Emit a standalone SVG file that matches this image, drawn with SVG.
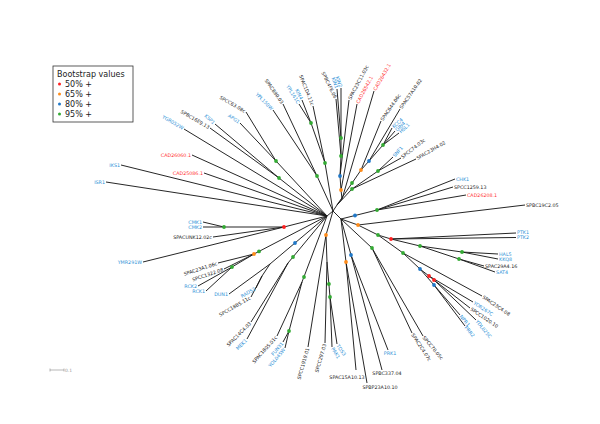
<svg xmlns="http://www.w3.org/2000/svg" width="600" height="424" viewBox="0 0 600 424">
<style>
.e{fill:none;stroke:#1a1a1a;stroke-width:0.95}
text{font-family:"DejaVu Sans","Liberation Sans",sans-serif}
.l{font-size:4.8px;fill:#222}
.b{fill:#2b8fd6}
.r{fill:#ff3030}
.k{fill:#222}
.st{text-anchor:start}
.en{text-anchor:end}
.mi{text-anchor:middle}
.lg{font-size:8px;fill:#222}
.d5{fill:#ff2020}.d6{fill:#ff8c1a}.d8{fill:#1f78c8}.d9{fill:#33aa33}
#bootstrap circle{r:1.9px}
</style>
<rect width="600" height="424" fill="#fff"/>
<g id="connectors" class="e">
<path d="M333 211L327 216M333 211L337 205M333 211L341 219
M327 216L184 129M327 216L279 178M279 178L210 128M279 178L215 124
M327 216L276 161M276 161L246 112M276 161L240 123
M327 216L192 155M327 216L121 165M327 216L204 173M327 216L106 182
M327 216L284 227M284 227L224 227M224 227L203 222M224 227L203 227M284 227L213 237M284 227L143 262
M327 216L254 254M254 254L218 263M254 254L224 269M254 254L232 267M232 267L198 286M232 267L206 291
M327 216L270 264M270 264L229 294M270 264L262 276M262 276L256 288M262 276L251 297
M327 216L288 263M288 263L251 322M288 263L247 339
M327 216L302 282M302 282L277 336M302 282L289 331M289 331L283 342M289 331L285 348
M333 211L325 163M325 163L311 123M311 123L302 100M311 123L299 104M325 163L313 106
M333 211L317 176M317 176L273 110M317 176L283 104
M333 211L326 235M326 235L308 347M326 235L327 262M327 262L325 343M327 262L330 297M330 297L332 347M330 297L337 344
M337 205L342 199M342 199L341 190M342 199L374 91M341 190L340 176M341 190L357 104
M340 176L341 156M340 176L349 100M341 156L341 138M341 156L336 99M341 138L337 89M341 138L341 88
M337 205L361 170M361 170L381 121M361 170L369 161M369 161L400 109M369 161L383 145
M383 145L392 128M383 145L395 131M383 145L399 133
M337 205L352 189M352 189L378 171M378 171L393 157M378 171L401 158M352 189L416 159
M341 219L377 210M377 210L455 179M377 210L453 187M377 210L466 195
M341 219L358 225M358 225L525 205M358 225L378 235M378 235L391 239
M391 239L516 233M391 239L516 237.5M391 239L420 246M420 246L462 252M462 252L498 254M462 252L498 259
M420 246L459 259M459 259L484 266M459 259L495 272
M378 235L403 253M403 253L482 296M403 253L420 269M420 269L429 276M429 276L473 302M429 276L434 280
M434 280L470 308M434 280L476 320M420 269L434 285M434 285L460 315M434 285L465 326
M341 219L372 248M372 248L412 333M372 248L423 336
M341 219L351 255M351 255L388 350M351 255L382 370
M341 219L346 262M346 262L356 370M346 262L367 383"/>
</g>
<g id="bootstrap">
<circle class="d9" cx="276" cy="161" r="1.9"/><circle class="d9" cx="279" cy="178" r="1.9"/>
<circle class="d9" cx="311" cy="123" r="1.9"/><circle class="d9" cx="325" cy="163" r="1.9"/>
<circle class="d9" cx="317" cy="176" r="1.9"/><circle class="d9" cx="341" cy="138" r="1.9"/>
<circle class="d9" cx="341" cy="156" r="1.9"/><circle class="d9" cx="383" cy="145" r="1.9"/>
<circle class="d9" cx="352" cy="183" r="1.9"/><circle class="d9" cx="378" cy="171" r="1.9"/>
<circle class="d9" cx="352" cy="189" r="1.9"/><circle class="d9" cx="377" cy="210" r="1.9"/>
<circle class="d9" cx="378" cy="235" r="1.9"/><circle class="d9" cx="420" cy="246" r="1.9"/>
<circle class="d9" cx="462" cy="252" r="1.9"/><circle class="d9" cx="459" cy="259" r="1.9"/>
<circle class="d9" cx="403" cy="253" r="1.9"/><circle class="d9" cx="372" cy="248" r="1.9"/>
<circle class="d9" cx="224" cy="227" r="1.9"/><circle class="d9" cx="232" cy="267" r="1.9"/>
<circle class="d9" cx="259" cy="251.4" r="1.9"/><circle class="d9" cx="293" cy="257" r="1.9"/>
<circle class="d9" cx="304" cy="277" r="1.9"/><circle class="d9" cx="289" cy="331" r="1.9"/>
<circle class="d9" cx="328.9" cy="284" r="1.9"/><circle class="d9" cx="330" cy="297" r="1.9"/>
<circle class="d6" cx="341" cy="190" r="1.9"/><circle class="d6" cx="361" cy="170" r="1.9"/>
<circle class="d6" cx="358" cy="225" r="1.9"/><circle class="d6" cx="254" cy="254" r="1.9"/>
<circle class="d6" cx="326" cy="235" r="1.9"/><circle class="d6" cx="346" cy="262" r="1.9"/>
<circle class="d8" cx="340" cy="176" r="1.9"/><circle class="d8" cx="369" cy="161" r="1.9"/>
<circle class="d8" cx="355" cy="215.5" r="1.9"/><circle class="d8" cx="420" cy="269" r="1.9"/>
<circle class="d8" cx="434" cy="285" r="1.9"/><circle class="d8" cx="295" cy="243" r="1.9"/>
<circle class="d8" cx="351" cy="255" r="1.9"/>
<circle class="d5" cx="284" cy="227" r="1.9"/><circle class="d5" cx="391" cy="239" r="1.9"/>
<circle class="d5" cx="429" cy="276" r="1.9"/><circle class="d5" cx="434" cy="280" r="1.9"/>
</g>
<g class="l">
<g id="n-YGR052W"><text class="b en" transform="translate(184 129) rotate(31)" x="-1" dy="1.7">YGR052W</text></g>
<g id="n-SPBC16E9.13"><text class="k en" transform="translate(210 128) rotate(30)" x="-1" dy="1.7">SPBC16E9.13</text></g>
<g id="n-KSP1"><text class="b en" transform="translate(215 124) rotate(42)" x="-1" dy="1.7">KSP1</text></g>
<g id="n-SPCC63.08c"><text class="k en" transform="translate(246 112) rotate(30)" x="-1" dy="1.7">SPCC63.08c</text></g>
<g id="n-APG1"><text class="b en" transform="translate(240 123) rotate(35)" x="-1" dy="1.7">APG1</text></g>
<g id="n-YPL150W"><text class="b en" transform="translate(273 110) rotate(45)" x="-1" dy="1.7">YPL150W</text></g>
<g id="n-SPAC890.03"><text class="k en" transform="translate(283 104) rotate(55)" x="-1" dy="1.7">SPAC890.03</text></g>
<g id="n-YPL141C"><text class="b en" transform="translate(299 104) rotate(58)" x="-1" dy="1.7">YPL141C</text></g>
<g id="n-KIN4"><text class="b en" transform="translate(302 100) rotate(63)" x="-1" dy="1.7">KIN4</text></g>
<g id="n-SPAC1D4.11c"><text class="k en" transform="translate(313 106) rotate(68)" x="-1" dy="1.7">SPAC1D4.11c</text></g>
<g id="n-SPBC4F6.06"><text class="k en" transform="translate(336 99) rotate(64)" x="-1" dy="1.7">SPBC4F6.06</text></g>
<g id="n-KIN1"><text class="b en" transform="translate(337 89) rotate(72)" x="-1" dy="1.7">KIN1</text></g>
<g id="n-KIN2"><text class="b en" transform="translate(341 88) rotate(72)" x="-1" dy="1.7">KIN2</text></g>
<g id="n-SPAC23C11.03c"><text class="k st" transform="translate(349 100) rotate(-62)" x="1" dy="1.7">SPAC23C11.03c</text></g>
<g id="n-CAD26542.1"><text class="r st" transform="translate(357 104) rotate(-62)" x="1" dy="1.7">CAD26542.1</text></g>
<g id="n-CAD26432.1"><text class="r st" transform="translate(374 91) rotate(-60)" x="1" dy="1.7">CAD26432.1</text></g>
<g id="n-SPAC644.06c"><text class="k st" transform="translate(381 121) rotate(-55)" x="1" dy="1.7">SPAC644.06c</text></g>
<g id="n-SPAC57A10.02"><text class="k st" transform="translate(400 109) rotate(-55)" x="1" dy="1.7">SPAC57A10.02</text></g>
<g id="n-KCC4"><text class="b st" transform="translate(392 128) rotate(-42)" x="1" dy="1.7">KCC4</text></g>
<g id="n-GIN4"><text class="b st" transform="translate(395 131) rotate(-42)" x="1" dy="1.7">GIN4</text></g>
<g id="n-HSL1"><text class="b st" transform="translate(399 133) rotate(-42)" x="1" dy="1.7">HSL1</text></g>
<g id="n-SNF1"><text class="b st" transform="translate(393 157) rotate(-48)" x="1" dy="1.7">SNF1</text></g>
<g id="n-SPCC74.03c"><text class="k st" transform="translate(401 158) rotate(-38)" x="1" dy="1.7">SPCC74.03c</text></g>
<g id="n-SPAC23H4.02"><text class="k st" transform="translate(416 159) rotate(-30)" x="1" dy="1.7">SPAC23H4.02</text></g>
<g id="n-CHK1"><text class="b st" x="456" y="180.7">CHK1</text></g>
<g id="n-SPCC1259.13"><text class="k st" x="454" y="188.7">SPCC1259.13</text></g>
<g id="n-CAD26208.1"><text class="r st" x="467" y="196.7">CAD26208.1</text></g>
<g id="n-SPBC19C2.05"><text class="k st" x="526" y="206.7">SPBC19C2.05</text></g>
<g id="n-PTK1"><text class="b st" x="517" y="234">PTK1</text></g>
<g id="n-PTK2"><text class="b st" x="517" y="239.2">PTK2</text></g>
<g id="n-HAL5"><text class="b st" x="499" y="255.6">HAL5</text></g>
<g id="n-KKQ8"><text class="b st" x="499" y="260.8">KKQ8</text></g>
<g id="n-SPAC29A4.16"><text class="k st" x="485" y="267.7">SPAC29A4.16</text></g>
<g id="n-SAT4"><text class="b st" x="496" y="273.7">SAT4</text></g>
<g id="n-SPAC23C4.08"><text class="k st" transform="translate(482 296) rotate(34)" x="1" dy="1.7">SPAC23C4.08</text></g>
<g id="n-YOR267C"><text class="b st" transform="translate(473 302) rotate(33)" x="1" dy="1.7">YOR267C</text></g>
<g id="n-SPCC1020.10"><text class="k st" transform="translate(470 308) rotate(34)" x="1" dy="1.7">SPCC1020.10</text></g>
<g id="n-YDL025C"><text class="b st" transform="translate(476 320) rotate(50)" x="1" dy="1.7">YDL025C</text></g>
<g id="n-NPR1"><text class="b st" transform="translate(460 315) rotate(50)" x="1" dy="1.7">NPR1</text></g>
<g id="n-PRR2"><text class="b st" transform="translate(465 326) rotate(50)" x="1" dy="1.7">PRR2</text></g>
<g id="n-SPCC70.05c"><text class="k st" transform="translate(423 336) rotate(50)" x="1" dy="1.7">SPCC70.05c</text></g>
<g id="n-SPAC2C4.07c"><text class="k st" transform="translate(412 333) rotate(57)" x="1" dy="1.7">SPAC2C4.07c</text></g>
<g id="n-PRK1"><text class="b mi" x="390" y="355">PRK1</text></g>
<g id="n-SPBC337.04"><text class="k mi" x="387" y="375">SPBC337.04</text></g>
<g id="n-SPBP23A10.10"><text class="k mi" x="380" y="388.8">SPBP23A10.10</text></g>
<g id="n-SPAC15A10.13"><text class="k mi" x="347" y="378.8">SPAC15A10.13</text></g>
<g id="n-TOS3"><text class="b st" transform="translate(337 344) rotate(55)" x="1" dy="1.7">TOS3</text></g>
<g id="n-PAK1"><text class="b st" transform="translate(332 347) rotate(58)" x="1" dy="1.7">PAK1</text></g>
<g id="n-SPCC297.03"><text class="k en" transform="translate(325 343) rotate(-74)" x="-1" dy="1.7">SPCC297.03</text></g>
<g id="n-SPCC1919.01"><text class="k en" transform="translate(308 347) rotate(-74)" x="-1" dy="1.7">SPCC1919.01</text></g>
<g id="n-FUN31"><text class="b en" transform="translate(283 342) rotate(-50)" x="-1" dy="1.7">FUN31</text></g>
<g id="n-YOL045W"><text class="b en" transform="translate(285 348) rotate(-50)" x="-1" dy="1.7">YOL045W</text></g>
<g id="n-SPAC1805.01c"><text class="k en" transform="translate(277 336) rotate(-48)" x="-1" dy="1.7">SPAC1805.01c</text></g>
<g id="n-MEK1"><text class="b en" transform="translate(247 339) rotate(-45)" x="-1" dy="1.7">MEK1</text></g>
<g id="n-SPAC14C4.03"><text class="k en" transform="translate(251 322) rotate(-45)" x="-1" dy="1.7">SPAC14C4.03</text></g>
<g id="n-SPCC18B5.11c"><text class="k en" transform="translate(251 297) rotate(-30)" x="-1" dy="1.7">SPCC18B5.11c</text></g>
<g id="n-RAD53"><text class="b en" transform="translate(256 288) rotate(-30)" x="-1" dy="1.7">RAD53</text></g>
<g id="n-DUN1"><text class="b en" x="228" y="295.7">DUN1</text></g>
<g id="n-RCK1"><text class="b en" x="205" y="292.7">RCK1</text></g>
<g id="n-RCK2"><text class="b en" x="197" y="287.7">RCK2</text></g>
<g id="n-SPCC1322.08"><text class="k en" transform="translate(224 269) rotate(-19)" x="-1" dy="1.7">SPCC1322.08</text></g>
<g id="n-SPAC23A1.06c"><text class="k en" transform="translate(218 263) rotate(-18)" x="-1" dy="1.7">SPAC23A1.06c</text></g>
<g id="n-YMR291W"><text class="b en" x="142" y="263.7">YMR291W</text></g>
<g id="n-SPACUNK12.02c"><text class="k en" x="212" y="238.7">SPACUNK12.02c</text></g>
<g id="n-CMK1"><text class="b en" x="202" y="223.5">CMK1</text></g>
<g id="n-CMK2"><text class="b en" x="202" y="228.8">CMK2</text></g>
<g id="n-ISR1"><text class="b en" x="105" y="183.7">ISR1</text></g>
<g id="n-IKS1"><text class="b en" x="120" y="166.7">IKS1</text></g>
<g id="n-CAD25086.1"><text class="r en" x="203" y="174.7">CAD25086.1</text></g>
<g id="n-CAD26060.1"><text class="r en" x="191" y="156.7">CAD26060.1</text></g>
</g>
<g id="legend">
<rect x="53" y="66" width="80" height="56" fill="#fff" stroke="#333" stroke-width="0.8"/>
<text class="lg" x="57" y="76.5">Bootstrap values</text>
<circle class="d5" cx="59.5" cy="84" r="1.5"/><text class="lg" x="65" y="87">50% +</text>
<circle class="d6" cx="59.5" cy="94" r="1.5"/><text class="lg" x="65" y="97">65% +</text>
<circle class="d8" cx="59.5" cy="104" r="1.5"/><text class="lg" x="65" y="107">80% +</text>
<circle class="d9" cx="59.5" cy="114" r="1.5"/><text class="lg" x="65" y="117">95% +</text>
</g>
<g id="scale">
<path d="M50 370H64M50 368.5V371.5M64 368.5V371.5" stroke="#999" stroke-width="0.7" fill="none"/>
<text x="65" y="371.5" font-size="4.5" fill="#999">0.1</text>
</g>
</svg>
